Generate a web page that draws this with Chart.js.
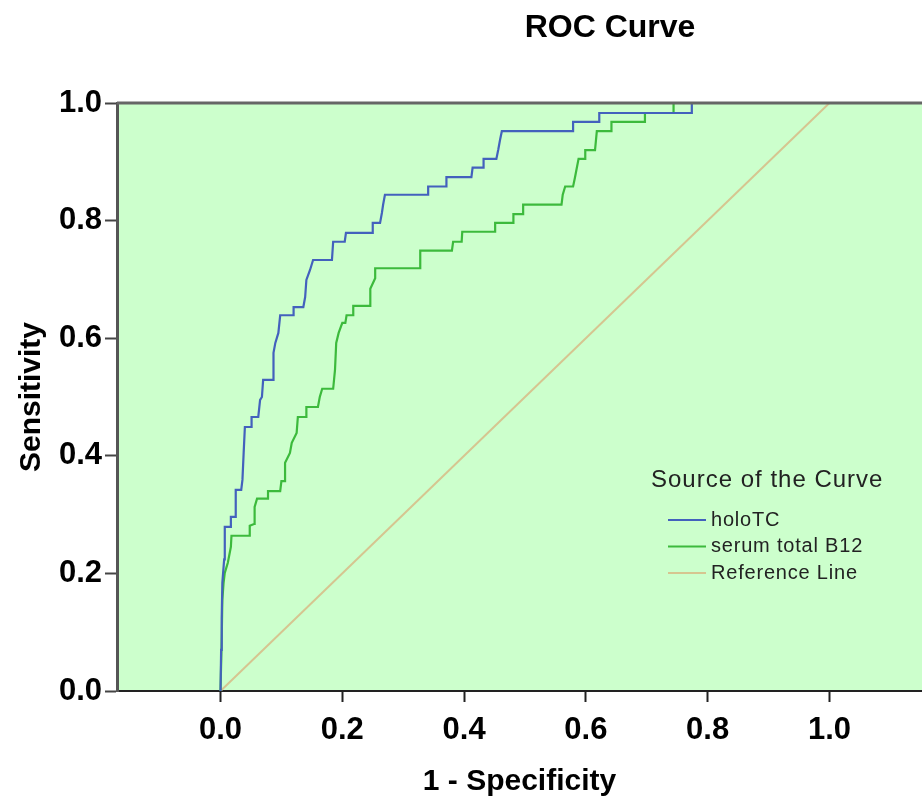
<!DOCTYPE html>
<html>
<head>
<meta charset="utf-8">
<title>ROC Curve</title>
<script src="https://cdn.jsdelivr.net/npm/chart.js@4.4.1/dist/chart.umd.min.js"></script>
<style>
  html, body { margin: 0; padding: 0; background: #fff; overflow: hidden; }
  #wrap { width: 922px; height: 800px; position: relative; }
</style>
</head>
<body>
<div id="wrap"><canvas id="roc"></canvas></div>
<script>
// holoTC curve (1 - specificity, sensitivity)
const holoFpr = [0, 0.001, 0.002, 0.003, 0.006, 0.007, 0.017, 0.017, 0.025, 0.025, 0.034, 0.036, 0.038, 0.040,
  0.051, 0.051, 0.062, 0.065, 0.068, 0.070, 0.087, 0.087, 0.090, 0.095, 0.098, 0.120, 0.120, 0.136, 0.139,
  0.141, 0.147, 0.152, 0.183, 0.185, 0.204, 0.206, 0.249, 0.250, 0.262, 0.265, 0.267, 0.270, 0.341, 0.341,
  0.371, 0.371, 0.412, 0.414, 0.432, 0.432, 0.453, 0.456, 0.459, 0.462, 0.579, 0.579, 0.622, 0.622, 0.774,
  0.774, 1.0];
const holoTpr = [0, 0.070, 0.126, 0.184, 0.224, 0.279, 0.279, 0.296, 0.296, 0.342, 0.342, 0.359, 0.405, 0.449,
  0.449, 0.466, 0.466, 0.495, 0.500, 0.529, 0.529, 0.575, 0.592, 0.609, 0.639, 0.639, 0.653, 0.653, 0.670,
  0.699, 0.716, 0.733, 0.733, 0.764, 0.764, 0.779, 0.779, 0.796, 0.796, 0.813, 0.827, 0.844, 0.844, 0.858,
  0.858, 0.874, 0.874, 0.890, 0.890, 0.905, 0.905, 0.920, 0.937, 0.952, 0.952, 0.968, 0.968, 0.983, 0.983,
  1.0, 1.0];

// serum total B12 curve
const b12Fpr = [0, 0.002, 0.003, 0.005, 0.007, 0.012, 0.017, 0.018, 0.048, 0.048, 0.055, 0.056, 0.060, 0.078,
  0.078, 0.098, 0.100, 0.106, 0.106, 0.114, 0.117, 0.125, 0.127, 0.141, 0.141, 0.160, 0.163, 0.167, 0.185,
  0.188, 0.190, 0.194, 0.200, 0.205, 0.207, 0.218, 0.218, 0.246, 0.246, 0.254, 0.254, 0.328, 0.328, 0.380,
  0.382, 0.396, 0.397, 0.451, 0.451, 0.481, 0.481, 0.497, 0.497, 0.560, 0.562, 0.566, 0.579, 0.582, 0.585,
  0.588, 0.599, 0.599, 0.615, 0.618, 0.642, 0.642, 0.697, 0.697, 0.744, 0.744, 1.0];
const b12Tpr = [0, 0.092, 0.155, 0.184, 0.201, 0.218, 0.245, 0.264, 0.264, 0.281, 0.284, 0.313, 0.327, 0.327,
  0.340, 0.340, 0.357, 0.357, 0.388, 0.405, 0.422, 0.439, 0.466, 0.466, 0.483, 0.483, 0.500, 0.514, 0.514,
  0.546, 0.592, 0.609, 0.626, 0.626, 0.639, 0.639, 0.655, 0.655, 0.684, 0.702, 0.719, 0.719, 0.749, 0.749,
  0.764, 0.764, 0.781, 0.781, 0.796, 0.796, 0.811, 0.811, 0.827, 0.827, 0.844, 0.858, 0.858, 0.873, 0.889,
  0.905, 0.905, 0.920, 0.920, 0.952, 0.952, 0.968, 0.968, 0.983, 0.983, 1.0, 1.0];

// diagonal reference line
const refFpr = [0, 1];
const refTpr = [0, 1];

const xTicks = [0, 0.2, 0.4, 0.6, 0.8, 1.0];
const yTicks = [0, 0.2, 0.4, 0.6, 0.8, 1.0];

function toPoints(xs, ys) {
  return xs.map(function (x, i) { return { x: x, y: ys[i] }; });
}

const FONT = "'Liberation Sans', Arial, sans-serif";

// plot background, top frame line, main title and legend
const spssLook = {
  id: 'spssLook',
  beforeDraw: function (chart) {
    const a = chart.chartArea, c = chart.ctx;
    c.save();
    c.fillStyle = '#ccffcc';
    c.fillRect(a.left, a.top, a.right - a.left, a.bottom - a.top);
    c.restore();
  },
  afterDraw: function (chart) {
    const a = chart.chartArea, c = chart.ctx;
    c.save();
    // top frame
    c.strokeStyle = '#666';
    c.lineWidth = 3;
    c.beginPath();
    c.moveTo(a.left, a.top);
    c.lineTo(a.right, a.top);
    c.stroke();

    // title
    c.fillStyle = '#000';
    c.font = 'bold 32px ' + FONT;
    c.textAlign = 'center';
    c.textBaseline = 'middle';
    c.fillText('ROC Curve', 610, 28);

    // legend
    c.textAlign = 'left';
    c.fillStyle = '#222';
    c.font = '24px ' + FONT;
    c.letterSpacing = '1px';
    c.fillText('Source of the Curve', 651, 480);
    c.font = '20px ' + FONT;
    c.letterSpacing = '0.8px';
    chart.data.datasets.forEach(function (ds, i) {
      const y = 520 + i * 26.5;
      c.strokeStyle = ds.borderColor;
      c.lineWidth = 2;
      c.beginPath();
      c.moveTo(668, y);
      c.lineTo(706, y);
      c.stroke();
      c.fillStyle = '#222';
      c.fillText(ds.label, 711, y);
    });
    c.restore();
  }
};

const ctx = document.getElementById('roc');
const rocChart = new Chart(ctx, {
  type: 'scatter',
  data: {
    datasets: [
      {
        label: 'holoTC',
        data: toPoints(holoFpr, holoTpr),
        showLine: true,
        borderColor: '#4361bd',
        borderWidth: 2.2,
        pointRadius: 0,
        tension: 0,
        order: 1
      },
      {
        label: 'serum total B12',
        data: toPoints(b12Fpr, b12Tpr),
        showLine: true,
        borderColor: '#3cba3c',
        borderWidth: 2.2,
        pointRadius: 0,
        tension: 0,
        order: 2
      },
      {
        label: 'Reference Line',
        data: toPoints(refFpr, refTpr),
        showLine: true,
        borderColor: '#d6c590',
        borderWidth: 2,
        pointRadius: 0,
        tension: 0,
        order: 3
      }
    ]
  },
  options: {
    responsive: true,
    maintainAspectRatio: false,
    animation: false,
    layout: { padding: { top: 103, right: 0, bottom: 0, left: 0 } },
    plugins: {
      legend: { display: false },
      title: { display: false },
      tooltip: { enabled: false }
    },
    scales: {
      x: {
        type: 'linear',
        min: -0.17,
        max: 1.152,
        afterBuildTicks: function (s) { s.ticks = xTicks.map(function (v) { return { value: v }; }); },
        afterFit: function (s) { s.height = 109; },
        ticks: {
          callback: function (v) { return Number(v).toFixed(1); },
          font: { family: FONT, size: 31, weight: 'bold' },
          color: '#000',
          padding: 10,
          maxRotation: 0,
          autoSkip: false
        },
        grid: { drawOnChartArea: false, drawTicks: true, tickLength: 11, tickColor: '#222', tickWidth: 2 },
        border: { display: true, color: '#222', width: 2 },
        title: {
          display: true,
          text: '1 - Specificity',
          font: { family: FONT, size: 30, weight: 'bold' },
          color: '#000',
          padding: { top: 13, bottom: 0 }
        }
      },
      y: {
        type: 'linear',
        min: 0,
        max: 1,
        afterBuildTicks: function (s) { s.ticks = yTicks.map(function (v) { return { value: v }; }); },
        afterFit: function (s) { s.width = 117; },
        ticks: {
          callback: function (v) { return Number(v).toFixed(1); },
          font: { family: FONT, size: 31, weight: 'bold' },
          color: '#000',
          padding: 3
        },
        grid: { drawOnChartArea: false, drawTicks: true, tickLength: 12, tickColor: '#444', tickWidth: 2 },
        border: { display: true, color: '#555', width: 3 },
        title: {
          display: true,
          text: 'Sensitivity',
          font: { family: FONT, size: 30, weight: 'bold' },
          color: '#000',
          padding: { top: 14, bottom: 0 }
        }
      }
    }
  },
  plugins: [spssLook]
});
</script>
</body>
</html>
